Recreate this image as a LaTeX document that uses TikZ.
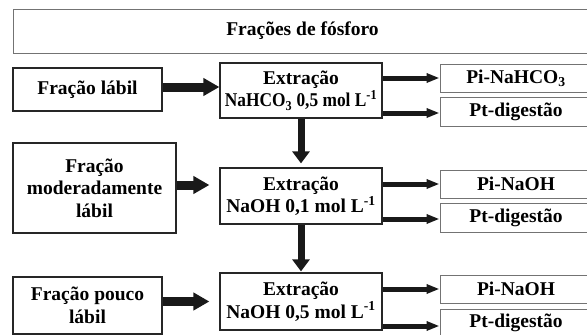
\documentclass[tikz,border=0pt]{standalone}
\usepackage{fontspec}
\setmainfont{Liberation Serif}
\usetikzlibrary{arrows.meta}

\tikzset{
  box/.style={draw=black!85,line width=1.2pt,inner sep=0pt,align=center,
    font=\fontsize{19.5}{22.5}\selectfont\bfseries},
  greybox/.style={box,draw=black!55,line width=1pt},
  fatarrow/.style={line width=9pt,black!90,-{Triangle[length=16pt,width=17pt]}},
  downarrow/.style={line width=7pt,black!90,-{Triangle[length=12pt,width=17pt]}},
  thinarrow/.style={line width=5pt,black!90,-{Triangle[length=13pt,width=9pt]}},
}

\begin{document}
\begin{tikzpicture}[x=1pt,y=-1pt]
\useasboundingbox (0,0) rectangle (587,335);

%---------------------------------------------------
\node[greybox,minimum width=579,minimum height=44] (titulo) at (302.5,31) {Frações de fósforo};

%---------------------------------------------------
\node[box,minimum width=149,minimum height=43] (labil)  at (87.5,89.5)  {Fração lábil};
\node[box,minimum width=163,minimum height=90] (moder)  at (94.5,188)   {Fração\\moderadamente\\lábil};
\node[box,minimum width=149,minimum height=57] (pouco)  at (87.5,305.5) {Fração pouco\\lábil};

%---------------------------------------------------
\node[box,minimum width=162,minimum height=55] (ext1) at (301,90.5)
  {Extração\\\scalebox{0.89}[1]{NaHCO\textsubscript{3} 0,5 mol L\textsuperscript{-1}}};
\node[box,minimum width=162,minimum height=56] (ext2) at (301,196)
  {Extração\\NaOH 0,1 mol L\textsuperscript{-1}};
\node[box,minimum width=162,minimum height=57] (ext3) at (301,301.5)
  {Extração\\NaOH 0,5 mol L\textsuperscript{-1}};

%---------------------------------------------------
\node[greybox,minimum width=152,minimum height=28] (pi1) at (516,78)    {Pi-NaHCO\textsubscript{3}};
\node[greybox,minimum width=152,minimum height=29] (pt1) at (516,111.5) {Pt-digestão};
\node[greybox,minimum width=152,minimum height=28] (pi2) at (516,184)   {Pi-NaOH};
\node[greybox,minimum width=152,minimum height=29] (pt2) at (516,217.5) {Pt-digestão};
\node[greybox,minimum width=152,minimum height=28] (pi3) at (516,289)   {Pi-NaOH};
\node[greybox,minimum width=152,minimum height=28] (pt3) at (516,323)   {Pt-digestão};

%---------------------------------------------------
\draw[fatarrow] ([yshift=2.5pt]labil.east) -- ([yshift=2.5pt]labil.east -| ext1.west);
\draw[fatarrow,shorten >=10pt] ([yshift=3pt]moder.east) -- ([yshift=3pt]moder.east -| ext2.west);
\draw[fatarrow,shorten >=10pt] (ext3.west -| pouco.east) -- (ext3.west);

\draw[downarrow,shorten >=4pt] (ext1.south) -- (ext2.north);
\draw[downarrow,shorten >=1pt] (ext2.south) -- (ext3.north);

\draw[thinarrow] (pi1.west -| ext1.east) -- (pi1.west);
\draw[thinarrow] ([yshift=-1.5pt]pt1.west -| ext1.east) -- ([yshift=-1.5pt]pt1.west);
\draw[thinarrow] (pi2.west -| ext2.east) -- (pi2.west);
\draw[thinarrow] ([yshift=-1.5pt]pt2.west -| ext2.east) -- ([yshift=-1.5pt]pt2.west);
\draw[thinarrow] (pi3.west -| ext3.east) -- (pi3.west);
\draw[thinarrow] ([yshift=-3pt]pt3.west -| ext3.east) -- ([yshift=-3pt]pt3.west);

\end{tikzpicture}
\end{document}
